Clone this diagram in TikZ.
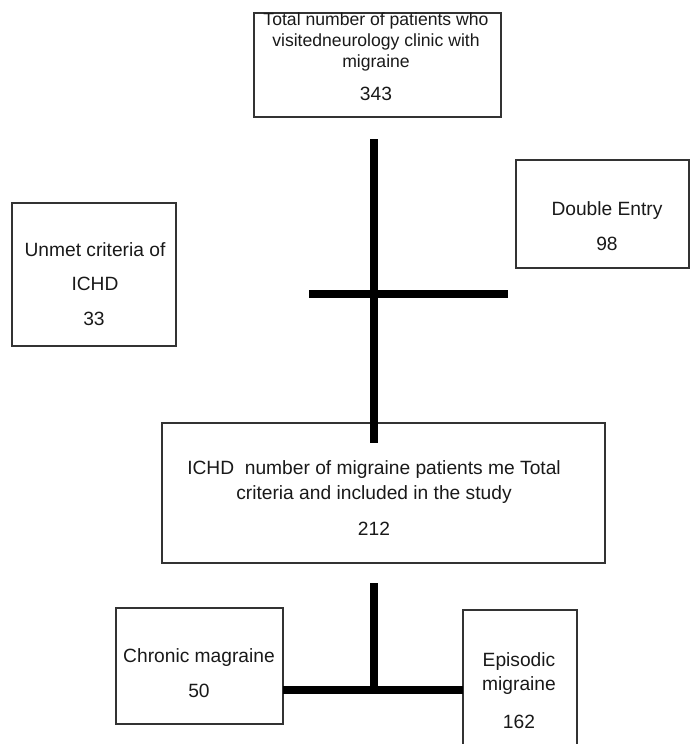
\documentclass[tikz,border=0pt]{standalone}
\usepackage{fontspec}
\setmainfont{Liberation Sans}
\usepackage{tikz}

\tikzset{
  box/.style={draw=black!80, line width=0.9pt, inner sep=0pt, outer sep=0pt},
  boxsize/.style 2 args={minimum width=#1*0.75pt, minimum height=#2*0.75pt},
  txt/.style={text=black!90, inner sep=0pt, align=center, font=\fontsize{14.4}{17}\selectfont},
  bar/.style={line width=5.4pt, black}
}

\begin{document}
\begin{tikzpicture}[x=0.75pt, y=-0.75pt]
    % Frame
    \path[use as bounding box] (0,0) rectangle (691,744);
    \clip (0,0) rectangle (691,744);

    % Boxes
    \node[box, boxsize={247}{104}] (total) at (377.5,65) {};
    \node[box, boxsize={164}{143}] (unmet) at (94,274.5) {};
    \node[box, boxsize={173}{108}] (double) at (602.5,214) {};
    \node[box, boxsize={443}{140}] (included) at (383.5,493) {};
    \node[box, boxsize={167}{116}] (chronic) at (199.5,666) {};
    \node[box, boxsize={114}{150}] (episodic) at (520,685) {};

    % Texts
    \node[txt, font=\fontsize{13.2}{15.75}\selectfont] (totaltxt) at (376,42)
        {Total number of patients who\\visitedneurology clinic with\\migraine};
    \node[txt, anchor=base] (totalnum) at (376,100) {343};

    \node[txt, font=\fontsize{14.4}{25.5}\selectfont] (unmettxt) at (95,267)
        {Unmet criteria of\\ICHD};
    \node[txt, anchor=base] (unmetnum) at (94,325) {33};

    \node[txt, anchor=base] (doubletxt) at (607,215) {Double Entry};
    \node[txt, anchor=base] (doublenum) at (607,250) {98};

    \node[txt, font=\fontsize{14.4}{18.75}\selectfont] (includedtxt) at (374,482.5)
        {ICHD\ \ number of migraine patients me Total\\criteria and included in the study};
    \node[txt, anchor=base] (includednum) at (374,535) {212};

    \node[txt, anchor=base] (chronictxt) at (199,662) {Chronic magraine};
    \node[txt, anchor=base] (chronicnum) at (199,697) {50};

    \node[txt, font=\fontsize{14.4}{18}\selectfont] (episodictxt) at (519,674)
        {Episodic\\migraine};
    \node[txt, anchor=base] (episodicnum) at (519,728) {162};

    % Connectors
    \coordinate (stemtop) at (374,139);
    \coordinate (crossL) at (309,294);
    \coordinate (crossR) at (508,294);
    \coordinate (split) at (374,690);

    \draw[bar] (stemtop) -- ([yshift=-15pt]included.north -| stemtop);
    \draw[bar] (crossL) -- (crossR);
    \draw[bar] ([yshift=-15pt]included.south -| split) -- (split);
    \draw[bar] (chronic.east |- split) -- (episodic.west |- split);
\end{tikzpicture}
\end{document}
